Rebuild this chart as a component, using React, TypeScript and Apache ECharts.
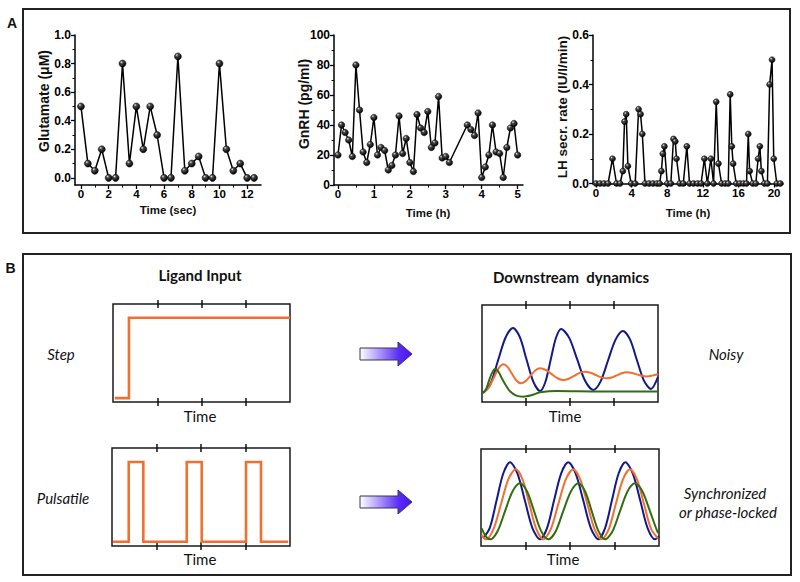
import { useEffect, useRef } from "react";
import * as echarts from "echarts";

// ---------- Panel A data ----------
const glutamateTime = [0, 0.5, 1, 1.5, 2, 2.5, 3, 3.5, 4, 4.5, 5, 5.5, 6, 6.5, 7, 7.5, 8, 8.5, 9, 9.5, 10, 10.5, 11, 11.5, 12, 12.5];
const glutamateValues = [0.5, 0.1, 0.05, 0.2, 0, 0, 0.8, 0.1, 0.5, 0.2, 0.5, 0.3, 0, 0, 0.85, 0.05, 0.1, 0.15, 0, 0, 0.8, 0.2, 0.05, 0.1, 0, 0];

const gnrhTime = [0, 0.1, 0.2, 0.3, 0.4, 0.5, 0.6, 0.7, 0.8, 0.9, 1.0, 1.1, 1.2, 1.3, 1.4, 1.5, 1.6, 1.7, 1.8, 1.9, 2.0, 2.1, 2.2, 2.3, 2.4, 2.5, 2.6, 2.7, 2.8, 2.9, 3.0, 3.1,
  3.6, 3.7, 3.8, 3.9, 4.0, 4.1, 4.2, 4.3, 4.4, 4.5, 4.6, 4.7, 4.8, 4.9, 5.0];
const gnrhValues = [20, 40, 35, 30, 19, 80, 50, 22, 15, 27, 45, 20, 25, 23, 10, 13, 20, 46, 21, 31, 15, 9, 47, 38, 35, 49, 25, 28, 59, 18, 19, 15,
  40, 37, 33, 48, 5, 12, 20, 40, 22, 21, 5, 25, 38, 41, 20];

const lhTime = [0, 0.45, 0.9, 1.35, 1.85, 2.3, 2.7, 3.01, 3.2, 3.39, 3.58, 3.95, 4.4, 4.78, 5.0, 5.2, 5.5, 5.95, 6.4, 6.85, 7.15, 7.34, 7.5, 7.68, 8.0, 8.4, 8.7, 8.9, 9.04, 9.4, 9.8, 10.2, 10.5, 10.95, 11.4, 11.8, 12.17, 12.5, 12.9, 13.2, 13.5, 13.75, 14.1, 14.5, 14.85, 15.07, 15.25, 15.4, 15.75, 16.15, 16.55, 16.9, 17.1, 17.25, 17.6, 17.95, 18.2, 18.4, 18.57, 18.9, 19.25, 19.5, 19.77, 19.96, 20.3, 20.7];
const lhValues = [0, 0, 0, 0, 0.1, 0, 0, 0.05, 0.25, 0.28, 0.07, 0, 0, 0.3, 0.28, 0.2, 0, 0, 0, 0, 0, 0.05, 0.12, 0.15, 0, 0, 0.18, 0.17, 0.1, 0, 0, 0.15, 0, 0, 0, 0, 0.1, 0, 0.1, 0, 0.33, 0.08, 0, 0, 0, 0.36, 0.15, 0.08, 0, 0, 0, 0, 0.2, 0.05, 0, 0, 0.1, 0.15, 0.05, 0, 0, 0.4, 0.5, 0.1, 0, 0];

const gluXTicks = [0, 2, 4, 6, 8, 10, 12];
const gluXMinor = [1, 3, 5, 7, 9, 11];
const gluYTicks = [0, 0.2, 0.4, 0.6, 0.8, 1.0];
const gluYMinor = [0.1, 0.3, 0.5, 0.7, 0.9];
const gnrhXTicks = [0, 1, 2, 3, 4, 5];
const gnrhXMinor = [0.5, 1.5, 2.5, 3.5, 4.5];
const gnrhYTicks = [0, 20, 40, 60, 80, 100];
const gnrhYMinor = [10, 30, 50, 70, 90];
const lhXTicks = [0, 4, 8, 12, 16, 20];
const lhXMinor = [2, 6, 10, 14, 18];
const lhYTicks = [0, 0.2, 0.4, 0.6];
const lhYMinor = [0.1, 0.3, 0.5];

// ---------- Panel B schematic data (time fraction, level fraction) ----------
const stepInput = [[0.01, 0.04], [0.09, 0.04], [0.09, 0.86], [1.0, 0.86]];
const pulseInput = [[0.006, 0.044], [0.094, 0.044], [0.094, 0.857], [0.176, 0.857], [0.176, 0.044], [0.42, 0.044], [0.42, 0.857], [0.504, 0.857], [0.504, 0.044], [0.753, 0.044], [0.753, 0.857], [0.837, 0.857], [0.837, 0.044], [0.99, 0.044]];

const noisyBlue = [[0.006, 0.093], [0.049, 0.191], [0.091, 0.428], [0.134, 0.665], [0.176, 0.763], [0.215, 0.668], [0.253, 0.438], [0.292, 0.208], [0.33, 0.113],
  [0.36, 0.206], [0.39, 0.433], [0.42, 0.66], [0.45, 0.753], [0.4955, 0.661], [0.541, 0.4385], [0.5865, 0.216], [0.632, 0.124],
  [0.674, 0.213], [0.716, 0.428], [0.759, 0.643], [0.801, 0.732], [0.841, 0.645], [0.88, 0.433], [0.92, 0.221], [0.96, 0.134], [1.0, 0.258]];
const noisyOrange = [[0.011, 0.103], [0.038, 0.145], [0.066, 0.246], [0.094, 0.347], [0.121, 0.389], [0.146, 0.36], [0.17, 0.291], [0.195, 0.222], [0.22, 0.193],
  [0.2475, 0.215], [0.275, 0.27], [0.3025, 0.325], [0.33, 0.347], [0.363, 0.33], [0.396, 0.287], [0.429, 0.245], [0.462, 0.227],
  [0.493, 0.24], [0.524, 0.27], [0.554, 0.3], [0.585, 0.312], [0.616, 0.302], [0.647, 0.278], [0.678, 0.254], [0.709, 0.244],
  [0.737, 0.253], [0.766, 0.275], [0.794, 0.297], [0.822, 0.306], [0.851, 0.3], [0.879, 0.285], [0.908, 0.27], [0.936, 0.263], [0.968, 0.272], [1.0, 0.286]];
const noisyGreen = [[0.006, 0.093], [0.023, 0.13], [0.04, 0.22], [0.057, 0.3], [0.074, 0.34], [0.094, 0.31], [0.114, 0.24], [0.136, 0.17], [0.159, 0.11], [0.195, 0.065], [0.235, 0.055], [0.28, 0.07], [0.33, 0.1], [0.38, 0.112], [0.424, 0.113], [0.67, 0.108], [1.0, 0.108]];

const syncBlue = [[0.011, 0.08], [0.049, 0.185], [0.087, 0.466], [0.125, 0.747], [0.163, 0.863], [0.205, 0.747], [0.247, 0.466], [0.289, 0.185], [0.331, 0.069],
  [0.371, 0.185], [0.41, 0.466], [0.45, 0.747], [0.49, 0.863], [0.532, 0.747], [0.575, 0.466], [0.617, 0.185], [0.659, 0.069],
  [0.697, 0.185], [0.735, 0.466], [0.773, 0.747], [0.811, 0.863], [0.853, 0.747], [0.895, 0.466], [0.936, 0.185], [0.978, 0.069], [1.0, 0.1]];
const syncOrange = [[0.004, 0.113], [0.028, 0.069], [0.07, 0.174], [0.112, 0.43], [0.153, 0.685], [0.195, 0.79], [0.234, 0.685], [0.272, 0.43], [0.311, 0.174], [0.35, 0.069],
  [0.392, 0.174], [0.434, 0.43], [0.476, 0.685], [0.518, 0.79], [0.558, 0.685], [0.598, 0.43], [0.638, 0.174], [0.678, 0.069],
  [0.718, 0.174], [0.757, 0.43], [0.797, 0.685], [0.837, 0.79], [0.877, 0.685], [0.916, 0.43], [0.956, 0.174], [0.994, 0.08]];
const syncGreen = [[0.004, 0.182], [0.027, 0.1], [0.051, 0.069], [0.093, 0.153], [0.135, 0.36], [0.177, 0.562], [0.219, 0.646], [0.259, 0.562], [0.298, 0.36], [0.338, 0.153], [0.378, 0.069],
  [0.42, 0.153], [0.462, 0.36], [0.505, 0.562], [0.547, 0.646], [0.585, 0.562], [0.622, 0.36], [0.66, 0.153], [0.697, 0.069],
  [0.739, 0.153], [0.781, 0.36], [0.823, 0.562], [0.865, 0.646], [0.907, 0.562], [0.949, 0.36], [0.99, 0.153], [1.0, 0.13]];
const boxTicks = [0.25, 0.5, 0.75];

const AFONT = "'Liberation Sans', Arial, sans-serif";
const BFONT = "Lato, 'Open Sans', sans-serif";
const NAVY = "#14198a";
const ORANGE = "#f0702e";
const GREEN = "#336d12";

function zip(xs: number[], ys: number[]) {
  return xs.map((x, i) => [x, ys[i]]);
}

function ball() {
  return new echarts.graphic.RadialGradient(0.35, 0.3, 0.7, [
    { offset: 0, color: "#e6e6e6" },
    { offset: 0.3, color: "#4a4a4a" },
    { offset: 1, color: "#000000" },
  ]);
}

function aAxisPair(gridIndex: number, min: number, max: number, majors: number[], minors: number[], fmt: (v: number) => string, dim: "x" | "y") {
  const main: any = {
    type: "value",
    gridIndex,
    min,
    max,
    position: dim === "x" ? "bottom" : "left",
    splitLine: { show: false },
    axisLine: { show: true, onZero: false, lineStyle: { color: "#000", width: 1.5 } },
    axisTick: { show: true, customValues: majors, length: 4, lineStyle: { color: "#000", width: 1.3 } },
    axisLabel: {
      customValues: majors,
      formatter: fmt,
      fontFamily: AFONT,
      fontWeight: "bold",
      fontSize: dim === "x" ? 11.5 : 12,
      color: "#000",
      margin: dim === "x" ? 3 : 4,
    },
  };
  const minor: any = {
    type: "value",
    gridIndex,
    min,
    max,
    position: dim === "x" ? "bottom" : "left",
    splitLine: { show: false },
    axisLine: { show: false, onZero: false },
    axisTick: { show: true, customValues: minors, length: 2.5, lineStyle: { color: "#000", width: 1 } },
    axisLabel: { show: false },
  };
  return [main, minor];
}

function boxXAxes(gridIndex: number) {
  const mk = (position: string): any => ({
    type: "value",
    gridIndex,
    min: 0,
    max: 1,
    position,
    offset: -4,
    splitLine: { show: false },
    axisLine: { show: false, onZero: false },
    axisTick: { show: true, customValues: boxTicks, length: 8, lineStyle: { color: "#111", width: 1.5 } },
    axisLabel: { show: false },
  });
  return [mk("bottom"), mk("top")];
}

function buildOption(): any {
  const grids = [
    { left: 75, top: 35, width: 186, height: 150 },
    { left: 334, top: 35, width: 189, height: 150 },
    { left: 593, top: 35, width: 190, height: 148.5 },
    { left: 113, top: 304, width: 177, height: 98, show: true, borderColor: "#1a1a1a", borderWidth: 1.5 },
    { left: 482, top: 305, width: 176, height: 97, show: true, borderColor: "#1a1a1a", borderWidth: 1.5 },
    { left: 112, top: 448, width: 178, height: 98, show: true, borderColor: "#1a1a1a", borderWidth: 1.5 },
    { left: 481, top: 449, width: 178, height: 97, show: true, borderColor: "#1a1a1a", borderWidth: 1.5 },
  ];

  const f1 = (v: number) => v.toFixed(1);
  const f0 = (v: number) => String(Math.round(v));

  const xAxis = [
    ...aAxisPair(0, -0.43, 13, gluXTicks, gluXMinor, f0, "x"),
    ...aAxisPair(1, -0.11, 5.15, gnrhXTicks, gnrhXMinor, f0, "x"),
    ...aAxisPair(2, -0.34, 21, lhXTicks, lhXMinor, f0, "x"),
    ...boxXAxes(3),
    ...boxXAxes(4),
    ...boxXAxes(5),
    ...boxXAxes(6),
  ];
  const hiddenY = (gridIndex: number) => ({ type: "value", gridIndex, min: 0, max: 1, show: false });
  const yAxis = [
    ...aAxisPair(0, -0.05, 1.0, gluYTicks, gluYMinor, f1, "y"),
    ...aAxisPair(1, 0, 100, gnrhYTicks, gnrhYMinor, f0, "y"),
    ...aAxisPair(2, 0, 0.6, lhYTicks, lhYMinor, f1, "y"),
    hiddenY(3),
    hiddenY(4),
    hiddenY(5),
    hiddenY(6),
  ];

  const dotSeries = (xi: number, yi: number, data: number[][], size: number) => ({
    type: "line",
    xAxisIndex: xi,
    yAxisIndex: yi,
    data,
    clip: false,
    lineStyle: { color: "#000", width: 1.5 },
    symbol: "circle",
    symbolSize: size,
    showSymbol: true,
    itemStyle: { color: ball(), borderColor: "#000", borderWidth: 0.5 },
  });
  const curve = (xi: number, yi: number, data: number[][], color: string, smooth: boolean | number) => ({
    type: "line",
    xAxisIndex: xi,
    yAxisIndex: yi,
    data,
    clip: false,
    smooth,
    symbol: "none",
    lineStyle: { color, width: smooth ? 2 : 2.6, join: "miter" },
  });

  const series = [
    dotSeries(0, 0, zip(glutamateTime, glutamateValues), 7),
    dotSeries(2, 2, zip(gnrhTime, gnrhValues), 6.5),
    dotSeries(4, 4, zip(lhTime, lhValues), 6),
    curve(6, 6, stepInput, ORANGE, false),
    curve(8, 7, noisyBlue, NAVY, 0.3),
    curve(8, 7, noisyOrange, ORANGE, 0.3),
    curve(8, 7, noisyGreen, GREEN, 0.3),
    curve(10, 8, pulseInput, ORANGE, false),
    curve(12, 9, syncBlue, NAVY, 0.3),
    curve(12, 9, syncOrange, ORANGE, 0.3),
    curve(12, 9, syncGreen, GREEN, 0.3),
  ];

  const txt = (text: string, x: number, y: number, opts: any = {}) => ({
    type: "text",
    x,
    y,
    rotation: opts.rotation || 0,
    style: {
      text,
      fill: "#111",
      textAlign: opts.align || "center",
      textVerticalAlign: "middle",
      fontFamily: opts.family || BFONT,
      fontSize: opts.size || 15,
      fontWeight: opts.weight || "normal",
      fontStyle: opts.style || "normal",
    },
  });

  const arrow = (cy: number) => ({
    type: "polygon",
    shape: {
      points: [
        [360, cy - 6], [398, cy - 6], [398, cy - 12], [412, cy], [398, cy + 12], [398, cy + 6], [360, cy + 6],
      ],
    },
    style: {
      fill: new echarts.graphic.LinearGradient(0, 0, 1, 0, [
        { offset: 0, color: "#ffffff" },
        { offset: 0.75, color: "#5a2cf6" },
        { offset: 1, color: "#4a14f2" },
      ]),
      stroke: "#3a3550",
      lineWidth: 1,
    },
  });

  const graphic = [
    { type: "rect", shape: { x: 23, y: 9, width: 767, height: 224 }, style: { fill: "none", stroke: "#222", lineWidth: 2 } },
    { type: "rect", shape: { x: 23, y: 254, width: 768, height: 321 }, style: { fill: "none", stroke: "#222", lineWidth: 2 } },
    txt("A", 12, 23, { family: AFONT, weight: "bold", size: 14 }),
    txt("B", 10.5, 268, { family: AFONT, weight: "bold", size: 14 }),
    txt("Glutamate (\u03bcM)", 44, 101, { family: AFONT, weight: "bold", size: 14, rotation: Math.PI / 2 }),
    txt("GnRH (pg/ml)", 303.5, 104, { family: AFONT, weight: "bold", size: 14, rotation: Math.PI / 2 }),
    txt("LH secr. rate (IU/l/min)", 562, 107, { family: AFONT, weight: "bold", size: 13.5, rotation: Math.PI / 2 }),
    txt("Time (sec)", 168, 209.5, { family: AFONT, weight: "bold", size: 11.5 }),
    txt("Time (h)", 428, 213, { family: AFONT, weight: "bold", size: 11.5 }),
    txt("Time (h)", 688, 213, { family: AFONT, weight: "bold", size: 11.5 }),
    txt("Ligand Input", 200, 275, { weight: "bold", size: 15 }),
    txt("Downstream  dynamics", 571, 277, { weight: "bold", size: 15 }),
    txt("Step", 61, 354, { style: "italic", size: 15 }),
    txt("Pulsatile", 63, 498, { style: "italic", size: 15 }),
    txt("Noisy", 726, 354, { style: "italic", size: 15 }),
    txt("Synchronized", 725, 493, { style: "italic", size: 15 }),
    txt("or phase-locked", 728, 512, { style: "italic", size: 15 }),
    txt("Time", 200, 416, { size: 15 }),
    txt("Time", 565, 416, { size: 15 }),
    txt("Time", 200, 559, { size: 15 }),
    txt("Time", 563, 559, { size: 15 }),
    arrow(354),
    arrow(502),
  ];

  return {
    animation: false,
    backgroundColor: "#ffffff",
    grid: grids,
    xAxis,
    yAxis,
    series,
    graphic,
  };
}

export default function App() {
  const ref = useRef<HTMLDivElement>(null);
  useEffect(() => {
    if (!ref.current) return;
    const chart = echarts.init(ref.current, null, { renderer: "svg" });
    chart.setOption(buildOption());
    return () => chart.dispose();
  }, []);
  return <div ref={ref} style={{ position: "absolute", left: 0, top: 0, width: 800, height: 582, background: "#fff" }} />;
}
